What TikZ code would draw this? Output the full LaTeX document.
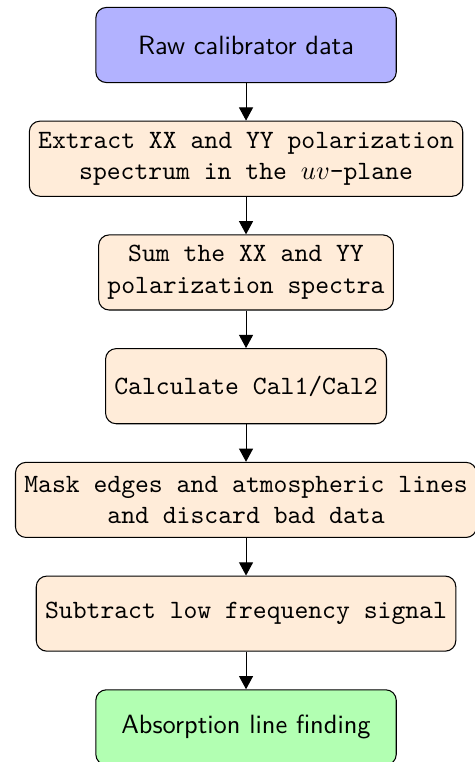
\documentclass[tikz,border=0pt]{standalone}
\usetikzlibrary{positioning,arrows.meta}
\begin{document}
\begin{tikzpicture}[
  node distance=0.5cm,
  base/.style={draw=black, rounded corners, minimum height=1cm, align=center},
  startbox/.style={base, fill=blue!30, minimum width=4cm, font=\sffamily},
  endbox/.style={base, fill=green!30, minimum width=4cm, font=\sffamily},
  procbox/.style={base, fill=orange!15, font=\ttfamily},
  conn/.style={-{Triangle[length=5pt,width=5.3pt]}}
]
\useasboundingbox (-93.2pt,17.05pt) rectangle (86.4pt,-271.6pt);
\node[startbox] (raw) at (0,0) {Raw calibrator data};
\node[procbox, below=of raw] (extract) {Extract XX and YY polarization\\spectrum in the $uv$-plane};
\node[procbox, below=of extract] (sum) {Sum the XX and YY\\polarization spectra};
\node[procbox, below=of sum] (calc) {Calculate Cal1/Cal2};
\node[procbox, below=of calc] (mask) {Mask edges and atmospheric lines\\and discard bad data};
\node[procbox, below=of mask] (subtract) {Subtract low frequency signal};
\node[endbox, below=of subtract] (absorb) {Absorption line finding};
\draw[conn] (raw) -- (extract);
\draw[conn] (extract) -- (sum);
\draw[conn] (sum) -- (calc);
\draw[conn] (calc) -- (mask);
\draw[conn] (mask) -- (subtract);
\draw[conn] (subtract) -- (absorb);
\end{tikzpicture}
\end{document}
